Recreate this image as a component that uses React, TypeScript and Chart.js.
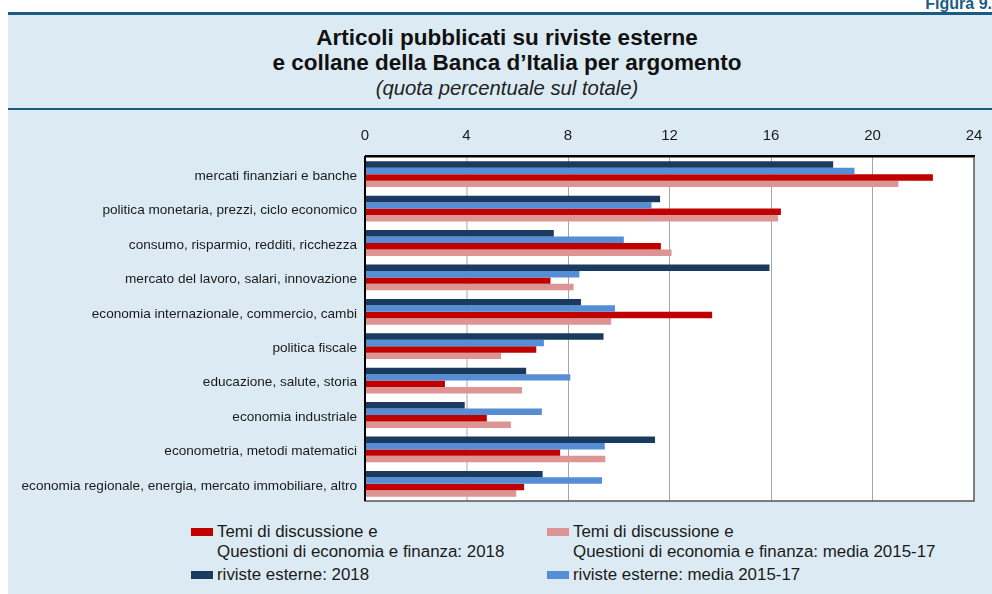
import React, { useEffect, useRef } from 'react';
import { Chart, registerables } from 'chart.js';

Chart.register(...registerables);

const categories = [
  'mercati finanziari e banche',
  'politica monetaria, prezzi, ciclo economico',
  'consumo, risparmio, redditi, ricchezza',
  'mercato del lavoro, salari, innovazione',
  'economia internazionale, commercio, cambi',
  'politica fiscale',
  'educazione, salute, storia',
  'economia industriale',
  'econometria, metodi matematici',
  'economia regionale, energia, mercato immobiliare, altro',
];

const riviste2018 = [18.45, 11.63, 7.44, 15.94, 8.51, 9.4, 6.35, 3.93, 11.43, 7.0];
const rivisteMedia = [19.29, 11.29, 10.2, 8.45, 9.85, 7.05, 8.09, 6.97, 9.45, 9.34];
const temi2018 = [22.38, 16.39, 11.66, 7.31, 13.68, 6.75, 3.15, 4.8, 7.69, 6.27];
const temiMedia = [21.02, 16.28, 12.08, 8.22, 9.7, 5.36, 6.19, 5.75, 9.47, 5.96];

const xTicks = [0, 4, 8, 12, 16, 20, 24];

const seriesLabels = [
  'riviste esterne: 2018',
  'riviste esterne: media 2015-17',
  'Temi di discussione e Questioni di economia e finanza: 2018',
  'Temi di discussione e Questioni di economia e finanza: media 2015-17',
];

const NAVY = '#1b3a60';
const BLUE = '#558ed5';
const RED = '#c00000';
const PINK = '#dc9594';
const FONT = '"Liberation Sans", Arial, Helvetica, sans-serif';
const PANEL = '#dcebf3';
const LINE = '#1c5b84';

const zeroPad = (scale: any) => {
  scale.paddingLeft = 0;
  scale.paddingRight = 0;
  scale.paddingTop = 0;
  scale.paddingBottom = 0;
};

const framePlugin = {
  id: 'frame',
  beforeDraw(chart: any) {
    const { ctx, chartArea: a } = chart;
    ctx.save();
    ctx.fillStyle = '#ffffff';
    ctx.fillRect(a.left, a.top, a.right - a.left, a.bottom - a.top);
    ctx.restore();
  },
  afterDraw(chart: any) {
    const { ctx, chartArea: a } = chart;
    ctx.save();
    ctx.strokeStyle = '#555555';
    ctx.lineWidth = 1.5;
    ctx.strokeRect(a.left, a.top, a.right - a.left, a.bottom - a.top);
    ctx.strokeStyle = '#000000';
    ctx.lineWidth = 2;
    ctx.beginPath();
    ctx.moveTo(a.left, a.top - 1);
    ctx.lineTo(a.right + 1, a.top - 1);
    ctx.moveTo(a.left, a.top - 1);
    ctx.lineTo(a.left, a.bottom);
    ctx.stroke();
    ctx.restore();
  },
};

function ChartCanvas() {
  const ref = useRef<HTMLCanvasElement | null>(null);
  useEffect(() => {
    if (!ref.current) return;
    const chart = new Chart(ref.current, {
      type: 'bar',
      data: {
        labels: categories,
        datasets: [
          { label: seriesLabels[0], data: riviste2018, backgroundColor: NAVY },
          { label: seriesLabels[1], data: rivisteMedia, backgroundColor: BLUE },
          { label: seriesLabels[2], data: temi2018, backgroundColor: RED },
          { label: seriesLabels[3], data: temiMedia, backgroundColor: PINK },
        ],
      },
      options: {
        indexAxis: 'y',
        animation: false,
        responsive: false,
        maintainAspectRatio: false,
        layout: { padding: { left: 0, right: 18, top: 0, bottom: 9 } },
        datasets: { bar: { categoryPercentage: 0.75, barPercentage: 1.0, borderWidth: 0 } },
        plugins: { legend: { display: false }, tooltip: { enabled: false }, title: { display: false } },
        scales: {
          x: {
            position: 'top',
            min: 0,
            max: 24,
            afterBuildTicks(scale: any) {
              scale.ticks = xTicks.map((v) => ({ value: v }));
            },
            afterFit(scale: any) {
              scale.height = 47;
              zeroPad(scale);
            },
            ticks: {
              font: { family: FONT, size: 15 },
              color: '#1a1a1a',
              padding: 12,
            },
            grid: {
              drawTicks: false,
              color: (c: any) => {
                const v = c.tick ? c.tick.value : -1;
                if (v === 0 || v === 24) return 'rgba(0,0,0,0)';
                if (v === 4) return '#d4d4d4';
                return '#a6a6a6';
              },
              lineWidth: (c: any) => (c.tick && c.tick.value === 4 ? 2 : 1),
            },
            border: { display: false },
          },
          y: {
            afterFit(scale: any) {
              scale.width = 357;
              zeroPad(scale);
            },
            ticks: {
              font: { family: FONT, size: 13.6 },
              color: '#1a1a1a',
              padding: 8,
              labelOffset: 2,
            },
            grid: { display: false, drawTicks: false },
            border: { display: false },
          },
        },
      },
      plugins: [framePlugin],
    } as any);
    return () => chart.destroy();
  }, []);
  return <canvas ref={ref} width={984} height={400} style={{ position: 'absolute', left: 8, top: 110, width: 984, height: 400 }} />;
}

function LegendItem({ color, lines, left, top }: { color: string; lines: string[]; left: number; top: number }) {
  return (
    <div style={{ position: 'absolute', left, top, fontSize: 16.9, lineHeight: '20px', color: '#1a1a1a' }}>
      <div style={{ position: 'absolute', left: 0, top: 6, width: 22, height: 8, background: color }} />
      <div style={{ marginLeft: 26, whiteSpace: 'nowrap' }}>
        {lines.map((l, i) => (
          <div key={i}>{l}</div>
        ))}
      </div>
    </div>
  );
}

export default function App() {
  return (
    <div style={{ position: 'fixed', left: 0, top: 0, width: 992, height: 594, overflow: 'hidden', fontFamily: FONT, background: '#ffffff' }}>
      <div
        style={{
          position: 'absolute',
          right: 0,
          top: -4,
          fontSize: 16,
          lineHeight: '16px',
          fontWeight: 'bold',
          color: LINE,
          whiteSpace: 'nowrap',
        }}
      >
        Figura 9.
      </div>
      <div style={{ position: 'absolute', left: 8, top: 12, width: 984, height: 582, background: PANEL }} />
      <div style={{ position: 'absolute', left: 8, top: 12, width: 984, height: 3, background: LINE }} />
      <div style={{ position: 'absolute', left: 8, top: 108, width: 984, height: 2, background: LINE }} />
      <div
        style={{
          position: 'absolute',
          left: 19,
          top: 25,
          width: 976,
          textAlign: 'center',
          fontSize: 22.5,
          lineHeight: '25px',
          fontWeight: 'bold',
          color: '#111',
          whiteSpace: 'nowrap',
        }}
      >
        <div>Articoli pubblicati su riviste esterne</div>
        <div>e collane della Banca d’Italia per argomento</div>
      </div>
      <div
        style={{
          position: 'absolute',
          left: 19,
          top: 78,
          width: 976,
          textAlign: 'center',
          fontSize: 20.3,
          lineHeight: '20px',
          fontStyle: 'italic',
          color: '#222',
          whiteSpace: 'nowrap',
        }}
      >
        (quota percentuale sul totale)
      </div>
      <ChartCanvas />
      <LegendItem color={RED} lines={['Temi di discussione e', 'Questioni di economia e finanza: 2018']} left={191} top={522} />
      <LegendItem color={PINK} lines={['Temi di discussione e', 'Questioni di economia e finanza: media 2015-17']} left={547} top={522} />
      <LegendItem color={NAVY} lines={[seriesLabels[0]]} left={191} top={565} />
      <LegendItem color={BLUE} lines={[seriesLabels[1]]} left={547} top={565} />
    </div>
  );
}
